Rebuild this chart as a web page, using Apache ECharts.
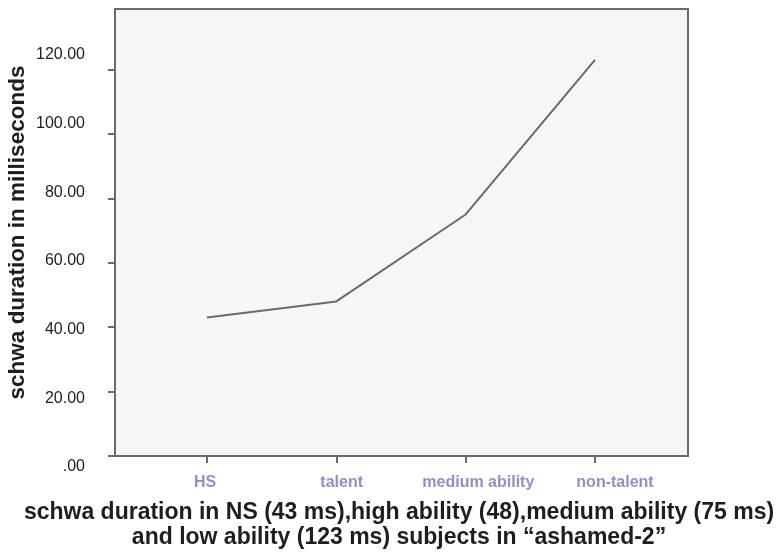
<!DOCTYPE html>
<html>
<head>
<meta charset="utf-8">
<title>schwa duration</title>
<script src="https://cdn.jsdelivr.net/npm/echarts@6/dist/echarts.min.js"></script>
<style>
  html, body { margin: 0; padding: 0; background: #ffffff; }
  #chart { width: 777px; height: 552px; }
</style>
</head>
<body>
<div id="chart"></div>
<script>
// Speaker groups and their mean schwa durations (ms)
const categories = ['HS', 'talent', 'medium ability', 'non-talent'];
const durations = [43, 48, 75, 123];
const yTickValues = [0, 20, 40, 60, 80, 100, 120];
const categoryIndex = [0, 1, 2, 3];

const titleLines = [
  'schwa duration in NS (43 ms),high ability (48),medium ability (75 ms)',
  'and low ability (123 ms) subjects in \u201cashamed-2\u201d'
];
const yName = 'schwa duration in milliseconds';

const FONT = '"Liberation Sans", Arial, Helvetica, sans-serif';
const frameColor = '#6d6968';

function fmtY(v) {
  const s = Number(v).toFixed(2);
  return s.startsWith('0.') ? s.slice(1) : s;
}

const chart = echarts.init(document.getElementById('chart'), null, { renderer: 'canvas' });

chart.setOption({
  backgroundColor: '#ffffff',
  animation: false,
  title: {
    text: titleLines.join('\n'),
    left: 399,
    top: 500,
    textAlign: 'center',
    padding: 0,
    textStyle: {
      fontFamily: FONT,
      fontSize: 23,
      fontWeight: 'bold',
      color: '#1e1e1e',
      lineHeight: 25
    }
  },
  grid: [
    {
      // plotting frame
      left: 115, right: 89, top: 9, bottom: 96,
      outerBoundsMode: 'none',
      containLabel: false,
      show: true,
      backgroundColor: '#f5f6f8',
      borderColor: frameColor,
      borderWidth: 2
    },
    {
      // label layer for the tick texts
      left: 205, right: 162, top: 55, bottom: 85,
      outerBoundsMode: 'none',
      containLabel: false,
      show: false
    }
  ],
  xAxis: [
    {
      gridIndex: 0,
      type: 'value',
      min: -0.711,
      max: 3.719,
      axisLine: { show: true, onZero: false, lineStyle: { color: frameColor, width: 2 } },
      axisTick: {
        show: true,
        customValues: categoryIndex,
        length: 7,
        inside: false,
        lineStyle: { color: frameColor, width: 2 }
      },
      axisLabel: { show: false },
      splitLine: { show: false }
    },
    {
      gridIndex: 1,
      type: 'value',
      min: 0,
      max: 3,
      axisLine: { show: false, onZero: false },
      axisTick: { show: false },
      splitLine: { show: false },
      axisLabel: {
        show: true,
        customValues: categoryIndex,
        showMinLabel: true,
        showMaxLabel: true,
        margin: 8,
        formatter: v => categories[Math.round(v)],
        fontFamily: FONT,
        fontSize: 16,
        fontWeight: 'bold',
        color: '#8d90c9'
      }
    }
  ],
  yAxis: [
    {
      gridIndex: 0,
      type: 'value',
      min: 0,
      max: 138.8,
      interval: 20,
      name: yName,
      nameLocation: 'middle',
      nameGap: 86,
      nameRotate: 90,
      nameTextStyle: {
        fontFamily: FONT,
        fontSize: 22.5,
        fontWeight: 'bold',
        color: '#1e1e1e'
      },
      axisLine: { show: true, onZero: false, lineStyle: { color: frameColor, width: 2 } },
      axisTick: {
        show: true,
        customValues: yTickValues,
        length: 7,
        lineStyle: { color: frameColor, width: 2 }
      },
      axisLabel: { show: false },
      splitLine: { show: false }
    },
    {
      gridIndex: 1,
      type: 'value',
      min: 0,
      max: 120,
      interval: 20,
      axisLine: { show: false, onZero: false },
      axisTick: { show: false },
      splitLine: { show: false },
      axisLabel: {
        show: true,
        customValues: yTickValues,
        showMinLabel: true,
        showMaxLabel: true,
        margin: 120,
        formatter: fmtY,
        fontFamily: FONT,
        fontSize: 16,
        color: '#222222'
      }
    }
  ],
  series: [
    {
      type: 'line',
      xAxisIndex: 0,
      yAxisIndex: 0,
      data: durations.map((d, i) => [categoryIndex[i], d]),
      showSymbol: false,
      symbol: 'none',
      lineStyle: { color: '#6e6a6a', width: 2 },
      silent: true
    }
  ]
});
</script>
</body>
</html>
